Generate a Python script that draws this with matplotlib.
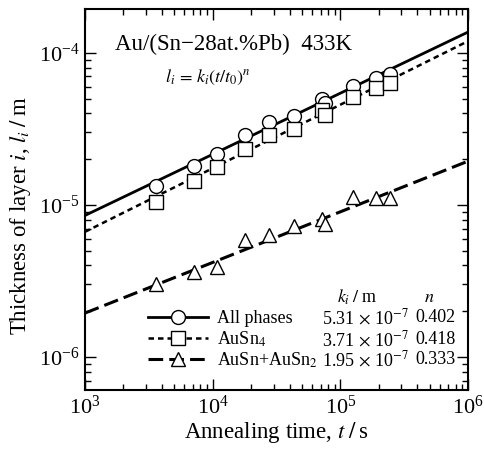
import numpy as np
import matplotlib
matplotlib.use("Agg")
import matplotlib.pyplot as plt
from matplotlib.lines import Line2D

plt.rcParams['font.family'] = ['Liberation Serif', 'DejaVu Serif']
plt.rcParams['mathtext.fontset'] = 'stix'

# ---- data ----
time_s = [3.6e3, 7.2e3, 1.08e4, 1.8e4, 2.76e4, 4.3e4, 7.2e4, 7.6e4, 1.26e5, 1.9e5, 2.45e5]
all_phases = [1.33e-5, 1.81e-5, 2.17e-5, 2.90e-5, 3.50e-5, 3.87e-5, 4.96e-5, 4.67e-5, 6.07e-5, 6.82e-5, 7.28e-5]
ausn4 = [1.05e-5, 1.445e-5, 1.79e-5, 2.32e-5, 2.89e-5, 3.15e-5, 4.22e-5, 3.91e-5, 5.12e-5, 5.86e-5, 6.38e-5]
ausn_ausn2 = [3.01e-6, 3.64e-6, 3.93e-6, 5.89e-6, 6.35e-6, 7.28e-6, 8.09e-6, 7.50e-6, 1.135e-5, 1.107e-5, 1.107e-5]

series_names = ['All phases', 'AuSn$_4$', 'AuSn+AuSn$_2$']
k_values = [5.31e-7, 3.71e-7, 1.95e-7]
k_labels = [r'5.31$\,\times\,$10$^{-7}$', r'3.71$\,\times\,$10$^{-7}$', r'1.95$\,\times\,$10$^{-7}$']
n_values = [0.402, 0.418, 0.333]
fit_t = [1e3, 1e6]

markers = ['o', 's', '^']
linestyles = ['-', (0, (2.2, 1.6)), (0, (4.8, 2.0))]
linewidths = [2.0, 1.8, 2.2]
msizes = [10, 9.5, 10.5]

fig = plt.figure(figsize=(4.84, 4.49), dpi=100)
ax = fig.add_axes([0.1756, 0.1314, 0.7914, 0.8486])

data = [all_phases, ausn4, ausn_ausn2]
t_line = np.array(fit_t)
for i in range(3):
    ax.plot(t_line, k_values[i] * t_line ** n_values[i], color='black',
            linestyle=linestyles[i], linewidth=linewidths[i], zorder=2)
    ax.plot(time_s, data[i], linestyle='none', marker=markers[i], markersize=msizes[i],
            markerfacecolor='white', markeredgecolor='black', markeredgewidth=1.0, zorder=3)

ax.set_xscale('log')
ax.set_yscale('log')
ax.set_xlim(1e3, 1e6)
ax.set_ylim(6.07e-7, 1.945e-4)

ax.tick_params(which='both', direction='in', top=True, right=True, width=1.0)
ax.tick_params(which='major', length=8, labelsize=16, pad=4)
ax.tick_params(which='minor', length=4.5)
for s in ax.spines.values():
    s.set_linewidth(1.5)

ax.set_xlabel(r'Annealing time, $t\;/\;$s', fontsize=16.5, labelpad=1)
ax.set_ylabel(r'Thickness of layer $i$, $l_i\;/\;$m', fontsize=16.5)
ax.yaxis.set_label_coords(-0.135, 0.459)

ax.text(0.078, 0.906, 'Au/(Sn\u221228at.%Pb)  433K', transform=ax.transAxes,
        fontsize=16.5, va='center', ha='left')
ax.text(0.209, 0.82, r'$l_i\,=\,k_i(t/t_0)^n$', transform=ax.transAxes,
        fontsize=13, va='center', ha='left')

handles = [Line2D([0], [0], color='black', linestyle=linestyles[i], linewidth=linewidths[i],
                  marker=markers[i], markersize=msizes[i], markerfacecolor='white',
                  markeredgecolor='black', markeredgewidth=1.0) for i in range(3)]
leg = ax.legend(handles, series_names, loc='upper left', bbox_to_anchor=(0.165, 0.21),
                frameon=False, fontsize=13, handlelength=3.3, handletextpad=0.5,
                labelspacing=0.12, borderpad=0.0, borderaxespad=0.0)

row_y = [0.189, 0.132, 0.079]
ax.text(0.71, 0.244, r'$k_i\;/\;$m', transform=ax.transAxes, fontsize=13, ha='center', va='center')
ax.text(0.90, 0.244, r'$n$', transform=ax.transAxes, fontsize=13, ha='center', va='center')
for i in range(3):
    ax.text(0.618, row_y[i], k_labels[i], transform=ax.transAxes, fontsize=13, ha='left', va='center')
    ax.text(0.862, row_y[i], f'{n_values[i]:.3f}', transform=ax.transAxes, fontsize=13, ha='left', va='center')

fig.savefig('out.png', dpi=100)
